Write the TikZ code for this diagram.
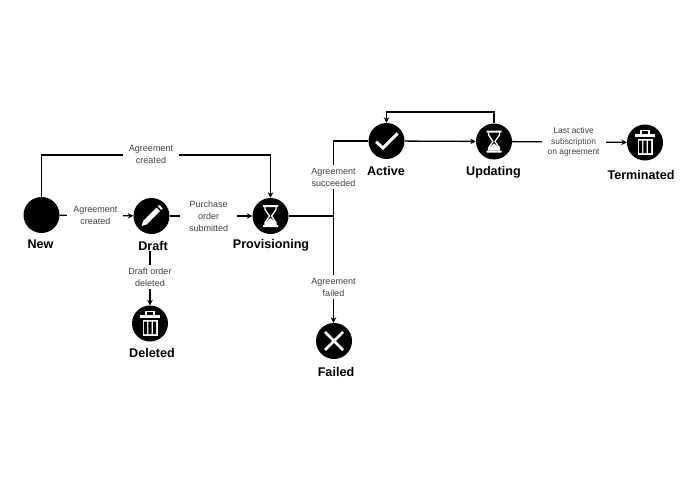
\documentclass[tikz,border=0pt]{standalone}
\usepackage{fontspec}
\setmainfont{Liberation Sans}
\usetikzlibrary{arrows.meta}
\tikzset{
  state/.style={circle,fill=black,minimum size=36pt,inner sep=0pt},
  title/.style={font=\bfseries\fontsize{12.6}{14}\selectfont,text=black,fill=white,inner sep=1pt},
  lab/.style={font=\fontsize{9}{12}\selectfont,text=black!75,fill=white,align=center,inner xsep=6pt,inner ysep=2.5pt},
  edge/.style={line width=1.3pt,-{Stealth[length=5.5pt,width=5.5pt]}},
  wire/.style={line width=1.3pt},
  hourglass/.pic={
    \fill[white] (-7.5,-11) rectangle (7.5,-9) (-7.5,9) rectangle (7.5,11);
    \draw[white,line width=1.3pt,line join=round] (-5.5,-9) -- (-5.5,-6.5) -- (-1,0) -- (-5.5,6.5) -- (-5.5,9) (5.5,-9) -- (5.5,-6.5) -- (1,0) -- (5.5,6.5) -- (5.5,9);
    \fill[white] (-5.5,9) -- (-5.5,6.5) -- (0,2) -- (5.5,6.5) -- (5.5,9) -- cycle;
  },
  trashcan/.pic={
    \fill[white] (-10,-8.5) rectangle (10,-5.5);
    \draw[white,line width=1.2pt] (-4,-8.5) -- (-4,-12) -- (4,-12) -- (4,-8.5);
    \fill[white] (-7.5,-4) rectangle (7.5,12);
    \fill[black] (-6.2,-2) rectangle (-3,10.5) (-1.6,-2) rectangle (1.6,10.5) (3,-2) rectangle (6.2,10.5);
  },
  pencil/.pic={
    \fill[white] (-10,10) -- (-8.3,5) -- (5,-8.3) -- (8.5,-4.8) -- (-4.8,8.5) -- cycle;
    \fill[white] (6.2,-9.7) -- (7.7,-11.2) -- (11.2,-7.7) -- (9.7,-6.2) -- cycle;
  },
  checkmark/.pic={
    \draw[white,line width=3pt] (-10.5,0.7) -- (-3.5,7) -- (11,-7.5);
  },
  crossmark/.pic={
    \draw[white,line width=2.6pt] (-9,-9) -- (9,9) (-9,9) -- (9,-9);
  }
}
\begin{document}
\begin{tikzpicture}[x=1pt,y=-1pt]
\useasboundingbox (0,0) rectangle (693,487);
% states
\node[state] (new) at (41.5,215) {};
\node[state] (draft) at (151.5,216) {};
\node[state] (prov) at (270.5,216) {};
\node[state] (deleted) at (150,323.5) {};
\node[state] (failed) at (334,341) {};
\node[state] (active) at (386.5,141) {};
\node[state] (updating) at (494,141.5) {};
\node[state] (termd) at (645,142.5) {};
% icons
\path (draft) pic {pencil};
\path (prov) pic {hourglass};
\path (updating) pic {hourglass};
\path (deleted) pic {trashcan};
\path (termd) pic {trashcan};
\path (active) pic {checkmark};
\path (failed) pic {crossmark};
% titles
\node[title] (newt) at (40.5,244) {New};
\node[title] (draftt) at (153,245.5) {Draft};
\node[title] (provt) at (271,245) {Provisioning};
\node[title] (deletedt) at (152,353) {Deleted};
\node[title] (failedt) at (336,372) {Failed};
\node[title] (activet) at (386,170.5) {Active};
\node[title] (updatingt) at (493.5,172.5) {Updating};
\node[title] (termdt) at (641,174.5) {Terminated};
% junctions
\coordinate (topmid) at (151,155);
\coordinate (fork) at (333.5,216);
\coordinate (forkup) at (333.5,141);
\coordinate (looptop) at (440,112);
% connectors
\draw[edge] (new) |- (topmid) node[lab,yshift=1pt] {Agreement\\created} -| (prov);
\draw[edge] (new) -- node[lab,pos=0.485] {Agreement\\created} (draft);
\draw[edge] (draft) -- node[lab,pos=0.47,inner xsep=9pt] {Purchase\\order\\submitted} (prov);
\draw[edge] (deleted |- draftt.south) -- node[lab,pos=0.48] {Draft order\\deleted} (deleted);
\draw[wire] (prov) -- (fork);
\draw[wire] (fork) -- node[lab,pos=0.52] {Agreement\\succeeded} (forkup) -- (active);
\draw[edge] (fork) -- node[lab,pos=0.665] {Agreement\\failed} (fork |- failed.north);
\draw[edge] (active) -- (updating);
\draw[edge] (updating) |- (looptop) -| (active);
\draw[edge] (updating) -- node[lab,pos=0.536,font=\fontsize{8.4}{10.5}\selectfont] {Last active\\subscription\\on agreement} (termd);
\end{tikzpicture}
\end{document}
